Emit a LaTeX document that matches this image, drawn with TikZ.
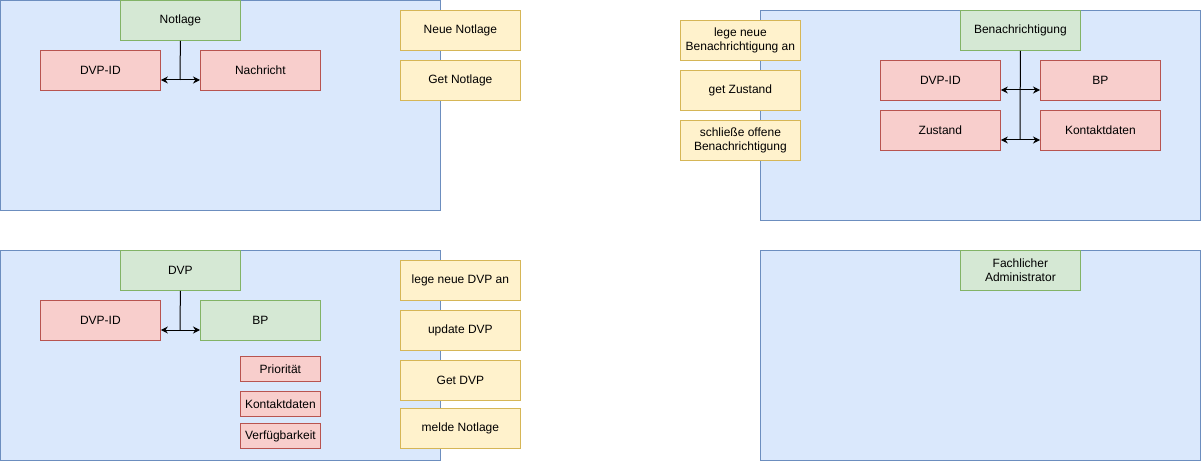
\documentclass[tikz,border=0pt]{standalone}
\usepackage{fontspec}
\setmainfont{Liberation Sans}
\usetikzlibrary{arrows.meta}

\definecolor{panelfill}{HTML}{DAE8FC}
\definecolor{paneldraw}{HTML}{6C8EBF}
\definecolor{entfill}{HTML}{D5E8D4}
\definecolor{entdraw}{HTML}{82B366}
\definecolor{attrfill}{HTML}{F8CECC}
\definecolor{attrdraw}{HTML}{B85450}
\definecolor{opfill}{HTML}{FFF2CC}
\definecolor{opdraw}{HTML}{D6B656}

\tikzset{
  box/.style={rectangle, anchor=north west, inner sep=0pt, align=center, line width=0.8pt},
  panel/.style={box, draw=paneldraw, fill=panelfill, minimum width=440pt, minimum height=210pt},
  entity/.style={box, draw=entdraw, fill=entfill, minimum width=120pt, minimum height=40pt},
  attr/.style={box, draw=attrdraw, fill=attrfill, minimum width=120pt, minimum height=40pt},
  smallattr/.style={box, draw=attrdraw, fill=attrfill, minimum width=80pt, minimum height=25pt},
  op/.style={box, draw=opdraw, fill=opfill, minimum width=120pt, minimum height=40pt},
  link/.style={line width=1pt, black}
}

\begin{document}
\begin{tikzpicture}[x=1pt, y=-1pt, >={Stealth[length=7pt, width=7pt]}, font=\fontsize{12}{14}\selectfont]
    \useasboundingbox (0,0) rectangle (1202,462);

    % Notlage
    \node[panel] (notlagepanel) at (0,0) {};
    \node[entity] (notlage) at (120,0) {Notlage};
    \node[attr] (notlageid) at (40,50) {DVP-ID};
    \node[attr] (nachricht) at (200,50) {Nachricht};
    \node[op] (neuenotlage) at (400,10) {Neue Notlage};
    \node[op] (getnotlage) at (400,60) {Get Notlage};

    \coordinate (notlagejn) at (180,80);
    \draw[link] (notlage.south) -- (notlagejn);
    \draw[link, <->] (notlageid.east |- notlagejn) -- (nachricht.west |- notlagejn);

    % Benachrichtigung
    \node[panel] (benpanel) at (760,10) {};
    \node[entity] (ben) at (960,10) {Benachrichtigung};
    \node[attr] (benid) at (880,60) {DVP-ID};
    \node[attr] (benbp) at (1040,60) {BP};
    \node[attr] (zustand) at (880,110) {Zustand};
    \node[attr] (benkontakt) at (1040,110) {Kontaktdaten};
    \node[op] (legeben) at (680,20) {lege neue\\Benachrichtigung an};
    \node[op] (getzustand) at (680,70) {get Zustand};
    \node[op] (schliesse) at (680,120) {schließe offene\\Benachrichtigung};

    \coordinate (benjna) at (1020,90);
    \coordinate (benjnb) at (1020,140);
    \draw[link] (ben.south) -- (benjnb);
    \draw[link, <->] (benid.east |- benjna) -- (benbp.west |- benjna);
    \draw[link, <->] (zustand.east |- benjnb) -- (benkontakt.west |- benjnb);

    % DVP
    \node[panel] (dvppanel) at (0,250) {};
    \node[entity] (dvp) at (120,250) {DVP};
    \node[attr] (dvpid) at (40,300) {DVP-ID};
    \node[entity] (dvpbp) at (200,300) {BP};
    \node[smallattr] (prio) at (240,356) {Priorität};
    \node[smallattr] (dvpkontakt) at (240,391) {Kontaktdaten};
    \node[smallattr] (verfueg) at (240,423) {Verfügbarkeit};
    \node[op] (legedvp) at (400,260) {lege neue DVP an};
    \node[op] (updatedvp) at (400,310) {update DVP};
    \node[op] (getdvp) at (400,360) {Get DVP};
    \node[op] (melde) at (400,408) {melde Notlage};

    \coordinate (dvpjn) at (180,330);
    \draw[link] (dvp.south) -- (dvpjn);
    \draw[link, <->] (dvpid.east |- dvpjn) -- (dvpbp.west |- dvpjn);

    % Fachlicher Administrator
    \node[panel] (adminpanel) at (760,250) {};
    \node[entity] (admin) at (960,250) {Fachlicher\\Administrator};
  \end{tikzpicture}
\end{document}
